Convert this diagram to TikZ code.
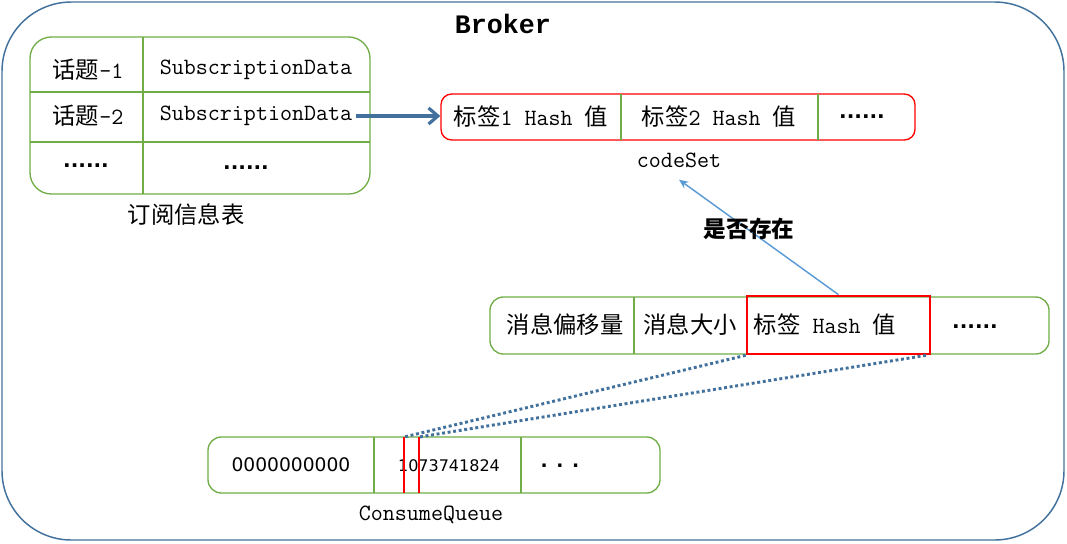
\documentclass[tikz,border=0pt]{standalone}
\usepackage{fontspec}
\usetikzlibrary{arrows.meta,fit}
\newfontfamily\cjk{Noto Sans CJK SC}
\newfontfamily\brokerfont{Liberation Mono}
\newfontfamily\numfont{DejaVu Sans}
\definecolor{gr}{HTML}{70AD47}
\definecolor{rd}{HTML}{FF0000}
\definecolor{db}{HTML}{41719C}
\definecolor{lb}{HTML}{5B9BD5}
\tikzset{
  outerbox/.style={draw=db, line width=1.1pt, rounded corners=52pt, inner sep=0pt},
  gbox/.style={draw=gr, line width=1pt, inner sep=0pt},
  rbox/.style={draw=rd, line width=1pt, inner sep=0pt, rounded corners=8pt},
  hbox/.style={draw=rd, line width=2pt, inner sep=0pt},
  gdiv/.style={draw=gr, line width=2.2pt},
  rbar/.style={draw=rd, line width=1.5pt},
  txt/.style={font=\ttfamily\fontsize{17.5}{20}\selectfont, inner sep=3pt},
  dotstxt/.style={font=\numfont\bfseries\fontsize{15}{17}\selectfont, inner sep=0pt},
  numtxt/.style={font=\numfont\fontsize{14}{16}\selectfont},
  darr/.style={draw=db, line width=2.4pt, -{Straight Barb[length=7pt,width=12pt]}},
  larr/.style={draw=lb, line width=1.1pt, -{Stealth[length=7pt,width=6pt]}},
  dotline/.style={draw=db, line width=2.2pt, dash pattern=on 2.2pt off 2pt},
}
\begin{document}
\begin{tikzpicture}[x=0.75pt,y=-0.75pt]
\useasboundingbox (0,0) rectangle (1067,543);
% outer broker box
\node[outerbox, fit={(2,2)(1064,540)}] (broker) {};
\node[font=\brokerfont\bfseries\fontsize{20}{24}\selectfont] (title) at (503,24) {Broker};

% subscription table
\node[gbox, rounded corners=16pt, fit={(30,37)(370,194)}] (sub) {};
\draw[gdiv] (143,37) -- (143,194);
\draw[gdiv] (30,92) -- (370,92);
\draw[gdiv] (30,142) -- (370,142);
\node[txt] (t1) at (88,70) {{\cjk 话题}-1};
\node[txt] (sd1) at (256,70) {SubscriptionData};
\node[txt] (t2) at (88,116) {{\cjk 话题}-2};
\node[txt] (sd2) at (256,116) {SubscriptionData};
\node[dotstxt] (t3) at (86,166) {......};
\node[dotstxt] (sd3) at (246,168) {......};
\node[txt] (sublabel) at (186,215) {\cjk 订阅信息表};

% codeSet
\node[rbox, fit={(441,94)(915,140)}] (cs) {};
\draw[gdiv] (621,94) -- (621,140);
\draw[gdiv] (818,94) -- (818,140);
\node[txt] (h1) at (531,117) {{\cjk 标签}1 Hash {\cjk 值}};
\node[txt] (h2) at (719,117) {{\cjk 标签}2 Hash {\cjk 值}};
\node[dotstxt] (h3) at (862,117) {......};
\node[txt] (cslabel) at (679,160) {codeSet};

\draw[darr] (sd2.east) -- (sd2.east -| cs.west);

% message
\node[gbox, rounded corners=10pt, fit={(490,297)(1049,354)}] (msg) {};
\draw[gdiv] (634,297) -- (634,354);
\node[hbox, fit={(747,296)(930,354)}] (hashcell) {};
\node[txt] (m1) at (565,325) {\cjk 消息偏移量};
\node[txt] (m2) at (690,325) {\cjk 消息大小};
\node[txt] (m3) at (825,325) {{\cjk 标签} Hash {\cjk 值}};
\node[dotstxt] (m4) at (975,327) {......};

\draw[larr] (hashcell.north) -- ([yshift=-6pt]cslabel.south);
\node[font=\cjk\bfseries\fontsize{17}{20}\selectfont] (exists) at (749,229) {是否存在};

% consume queue
\node[gbox, rounded corners=10pt, fit={(208,437)(660,493)}] (cq) {};
\draw[gdiv] (374,437) -- (374,493);
\draw[gdiv] (521,437) -- (521,493);
\node[numtxt] (q1) at (291,465) {0000000000};
\node[numtxt, font=\numfont\fontsize{12}{14}\selectfont] (q2) at (449,466) {1073741824};
\node[numtxt, font=\numfont\bfseries\fontsize{14}{16}\selectfont] (q3) at (560,466) {. . .};
\coordinate (r1top) at (404,437);
\coordinate (r1bot) at (404,493);
\coordinate (r2top) at (419,437);
\coordinate (r2bot) at (419,493);
\draw[rbar] (r1top) -- (r1bot);
\draw[rbar] (r2top) -- (r2bot);
\node[txt] (cqlabel) at (431,515) {ConsumeQueue};

\draw[dotline] (hashcell.south west) -- (r1top);
\draw[dotline] ([xshift=-4pt]hashcell.south east) -- (r2top);
\end{tikzpicture}
\end{document}
